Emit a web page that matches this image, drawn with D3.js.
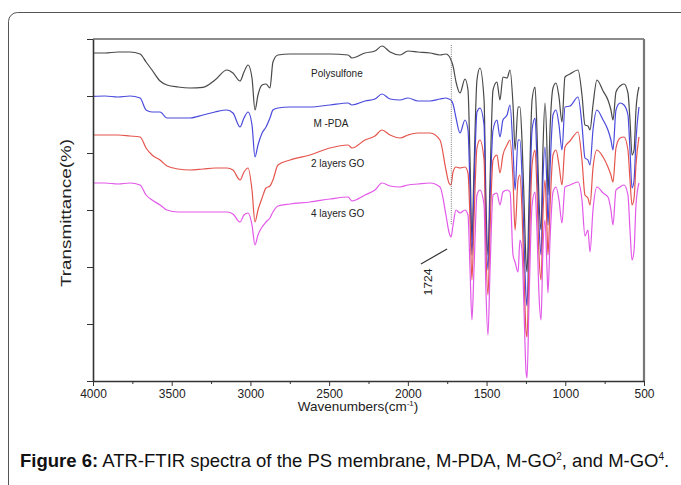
<!DOCTYPE html>
<html lang="en">
<head>
  <meta charset="UTF-8">
  <title>ATR-FTIR spectra</title>
  <style>
    body {
      margin: 0;
      background: #fff;
      overflow: hidden;
    }
    svg {
      font-family: "Liberation Sans", Arial, sans-serif;
    }
    .axis path, .axis line {
      stroke: #333;
    }
    .axis text {
      font-size: 12px;
      fill: #222;
    }
    .spec {
      fill: none;
      stroke-width: 1.2px;
      stroke-linejoin: round;
    }
    .lbl {
      font-size: 10px;
      fill: #222;
    }
  </style>
</head>
<body>
  <svg width="681" height="485"></svg>

  <script src="https://d3js.org/d3.v7.min.js"></script>
  <script>
    // wavenumbers (cm-1), shared by all four spectra
    const wavenumbers = [
      4000, 3924, 3841, 3765, 3701, 3663, 3625, 3574, 3530, 3460,
      3384, 3301, 3225, 3149, 3111, 3066, 3041, 3015, 2990, 2971,
      2952, 2926, 2901, 2876, 2857, 2825, 2749, 2622, 2495, 2380,
      2355, 2272, 2209, 2164, 2113, 2050, 1999, 1936, 1859, 1796,
      1758, 1739, 1726, 1713, 1694, 1669, 1637, 1618, 1605, 1593,
      1580, 1561, 1542, 1516, 1504, 1491, 1478, 1459, 1434, 1415,
      1396, 1370, 1351, 1332, 1319, 1300, 1288, 1275, 1262, 1250,
      1243, 1230, 1211, 1192, 1180, 1167, 1154, 1142, 1129, 1116,
      1110, 1097, 1078, 1059, 1040, 1021, 1002, 970, 919, 894,
      875, 856, 843, 824, 799, 760, 729, 710, 697, 678,
      652, 627, 602, 589, 576, 563, 551, 532
    ];

    // transmittance, arbitrary units with vertical offsets
    const polysulfone = [
      164, 164, 164.5, 164.5, 163.5, 159.5, 155.5, 150, 148, 147,
      146.5, 146.8, 150.5, 155.5, 154, 150, 154.5, 158, 151.5, 135.5,
      143, 148, 148.5, 146.5, 159.5, 163, 163.5, 163.5, 163.5, 163,
      161.5, 164, 165, 167.5, 164.5, 163, 165, 164.5, 164, 163,
      163.5, 162.5, 160.5, 157.5, 149.5, 144, 151, 145.5, 110.5, 70.5,
      105.5, 150.5, 156.5, 140.5, 90.5, 63, 100.5, 145.5, 149.5, 140.5,
      152, 151.5, 155.5, 138, 115.5, 137, 137, 120.5, 90.5, 60.5,
      54.5, 90.5, 140.5, 147, 125.5, 90.5, 75.5, 115.5, 139, 115.5,
      93, 125.5, 146.5, 149, 142, 129.5, 152, 153.5, 155.5, 143,
      128, 127.5, 125.5, 138, 150.5, 145, 140.5, 135.5, 130.5, 144.5,
      147.5, 148.5, 144, 130.5, 113, 115.5, 135.5, 147
    ];
    const mPDA = [
      142.3, 142.5, 142, 142.5, 141.5, 135.5, 134.5, 134.5, 131.5, 131.5,
      131.5, 133, 134.5, 135.5, 134, 127, 131.5, 134.5, 128, 112,
      118, 124, 127, 131.5, 135.5, 136.5, 137, 137, 138, 139,
      138, 140, 141, 143.5, 141, 140.5, 141.5, 140, 140, 141,
      141.5, 141, 140.5, 138.5, 131.5, 124, 130.5, 125.5, 95.5, 63,
      95.5, 134.5, 136.5, 128, 80.5, 55.5, 90.5, 125.5, 130.5, 122,
      130.5, 133, 138, 115.5, 95.5, 120.5, 120.5, 103, 70.5, 43,
      37.5, 75.5, 125.5, 131.5, 110.5, 78, 63, 100.5, 117, 95.5,
      78, 105.5, 133, 135.5, 128, 115.5, 137, 137.5, 142, 128,
      111.5, 110.5, 108, 125.5, 135.5, 130.5, 125.5, 120.5, 115.5, 135.5,
      139, 138, 133, 115.5, 96.5, 100.5, 120.5, 137
    ];
    const go2 = [
      123, 123, 123, 122.5, 122, 116.5, 113, 110.5, 107.5, 106,
      105.5, 106, 106.5, 106.5, 105.5, 100.5, 104.5, 106.5, 95.5, 79.5,
      85.5, 91.5, 96.5, 97.5, 100.5, 108, 110.5, 113, 116.5, 118,
      116.5, 120.5, 122.5, 125.5, 123, 121.5, 123, 124, 124, 120.5,
      105.5, 99, 98, 104.5, 107, 106.5, 107, 104, 80.5, 50.5,
      80.5, 116.5, 120.5, 110.5, 65.5, 43, 75.5, 110.5, 113, 104,
      113, 118, 120.5, 100.5, 75.5, 100.5, 103, 85.5, 53, 25.5,
      22, 60.5, 108, 115.5, 95.5, 63, 50.5, 83, 100.5, 75.5,
      63, 87, 113, 115.5, 108, 98, 117, 120, 124.5, 110.5,
      93, 91.5, 88, 106.5, 115.5, 112, 107, 103, 99.5, 116.5,
      121.5, 122, 115.5, 100.5, 88, 91.5, 108, 122
    ];
    const go4 = [
      99, 99, 98.5, 99, 98, 93, 90.5, 88, 85.5, 84.5,
      84.5, 84.5, 84.5, 84.5, 83.5, 79.5, 83, 84, 78, 68,
      73, 77, 79.5, 81.5, 84.5, 87.5, 88.5, 89.5, 91, 92,
      90, 93, 95.5, 99, 97.5, 97, 98, 98.5, 99, 97,
      83, 74.5, 72, 78, 85.5, 84, 85.5, 83, 55.5, 30.5,
      55.5, 93, 95.5, 88, 45.5, 23, 55.5, 93, 94, 88,
      94.5, 95.5, 94.5, 63, 59.5, 54.5, 70.5, 65.5, 35.5, 5.5,
      1.5, 40.5, 88, 94.5, 75.5, 43, 30.5, 65.5, 80.5, 55.5,
      44, 70.5, 94.5, 97, 90.5, 79, 97, 98, 99.5, 90.5,
      72.5, 75.5, 64.5, 85.5, 97, 94, 92, 85.5, 78, 95.5,
      97, 98, 93, 75.5, 60.5, 65.5, 88, 99
    ];

    const seriesNames = ["Polysulfone", "M -PDA", "2 layers GO", "4 layers GO"];
    const seriesValues = [polysulfone, mPDA, go2, go4];
    const seriesColors = ["#3a3a3a", "#3b3bd9", "#e2463f", "#e04ae6"];
    // where the in-plot labels sit (wavenumber, value)
    const labelWn = [2615, 2600, 2615, 2615];
    const labelVal = [154, 129, 109, 84];

    const xTicks = [4000, 3500, 3000, 2500, 2000, 1500, 1000, 500];
    const xMinor = [3750, 3250, 2750, 2250, 1750, 1250, 750];
    const yTicks = [0, 28.5, 57, 85.5, 114, 142.5, 171];

    const markWn = 1724;

    const svg = d3.select("svg");

    // outer figure box
    svg.append("rect")
      .attr("x", 8.5).attr("y", 12.5)
      .attr("width", 700).attr("height", 500)
      .attr("rx", 9)
      .attr("fill", "none")
      .attr("stroke", "#555")
      .attr("stroke-width", 1);

    const x = d3.scaleLinear().domain([4000, 500]).range([93, 644]);
    const y = d3.scaleLinear().domain([0, 171]).range([381, 39]);

    const g = svg.append("g");

    // top and right frame
    g.append("line")
      .attr("x1", x(4000)).attr("x2", x(500))
      .attr("y1", y(171)).attr("y2", y(171))
      .attr("stroke", "#666").attr("stroke-width", 1.5);
    g.append("line")
      .attr("x1", x(500)).attr("x2", x(500))
      .attr("y1", y(171)).attr("y2", y(0))
      .attr("stroke", "#777").attr("stroke-width", 2.2);

    // spectra
    const line = d3.line()
      .x((d, i) => x(wavenumbers[i]))
      .y(d => y(d))
      .curve(d3.curveMonotoneX);

    seriesValues.forEach((vals, k) => {
      g.append("path")
        .attr("class", "spec")
        .attr("d", line(vals))
        .attr("stroke", seriesColors[k])
        .attr("stroke-opacity", 0.92);
    });

    // dotted marker at 1724
    g.append("line")
      .attr("x1", x(markWn)).attr("x2", x(markWn))
      .attr("y1", y(168)).attr("y2", y(78))
      .attr("stroke", "#777")
      .attr("stroke-width", 1)
      .attr("stroke-dasharray", "1,1.2");

    // pointer line and its label
    g.append("line")
      .attr("x1", x(1917)).attr("y1", y(58.5))
      .attr("x2", x(1751)).attr("y2", y(66))
      .attr("stroke", "#333").attr("stroke-width", 1.2);
    g.append("text")
      .attr("transform", `translate(${x(1870)},${y(49.5)}) rotate(-90)`)
      .attr("text-anchor", "middle")
      .attr("dy", "0.35em")
      .attr("font-size", "10px")
      .attr("textLength", 27)
      .attr("lengthAdjust", "spacingAndGlyphs")
      .attr("fill", "#222")
      .text("1724");

    // series labels
    seriesNames.forEach((name, k) => {
      g.append("text")
        .attr("class", "lbl")
        .attr("x", x(labelWn[k]))
        .attr("y", y(labelVal[k]))
        .attr("dy", "0.35em")
        .text(name);
    });

    // axes
    g.append("g")
      .attr("class", "axis")
      .attr("transform", `translate(0,${y(0)})`)
      .call(d3.axisBottom(x).tickValues(xMinor).tickSize(3).tickFormat(""))
      .call(a => a.select(".domain").remove());

    g.append("g")
      .attr("class", "axis")
      .attr("transform", `translate(0,${y(0)})`)
      .call(d3.axisBottom(x).tickValues(xTicks).tickSize(5).tickPadding(3)
        .tickSizeOuter(0).tickFormat(d3.format("d")))
      .call(a => a.select(".domain").attr("stroke-width", 1.6));

    g.append("g")
      .attr("class", "axis")
      .attr("transform", `translate(${x(4000)},0)`)
      .call(d3.axisLeft(y).tickValues(yTicks).tickSize(6).tickFormat("").tickSizeOuter(0))
      .call(a => a.select(".domain").attr("stroke-width", 1.6));

    // axis titles
    const xt = svg.append("text")
      .attr("x", 358).attr("y", 411)
      .attr("text-anchor", "middle")
      .attr("font-size", "13.5px")
      .attr("fill", "#222");
    xt.append("tspan").text("Wavenumbers(cm");
    xt.append("tspan").attr("dy", -5).attr("font-size", "8px").text("-1");
    xt.append("tspan").attr("dy", 5).text(")");

    svg.append("text")
      .attr("transform", "translate(66,213) rotate(-90)")
      .attr("text-anchor", "middle")
      .attr("dy", "0.35em")
      .attr("font-size", "14.5px")
      .attr("textLength", 148)
      .attr("lengthAdjust", "spacingAndGlyphs")
      .attr("fill", "#222")
      .text("Transmittance(%)");

    // caption
    const cap = svg.append("text")
      .attr("x", 20).attr("y", 467)
      .attr("font-size", "18.5px")
      .attr("fill", "#111");
    cap.append("tspan").attr("font-weight", "bold").text("Figure 6:");
    cap.append("tspan").text(" ATR-FTIR spectra of the PS membrane, M-PDA, M-GO");
    cap.append("tspan").attr("dy", -7).attr("font-size", "10px").text("2");
    cap.append("tspan").attr("dy", 7).text(", and M-GO");
    cap.append("tspan").attr("dy", -7).attr("font-size", "10px").text("4");
    cap.append("tspan").attr("dy", 7).text(".");
  </script>
</body>
</html>
